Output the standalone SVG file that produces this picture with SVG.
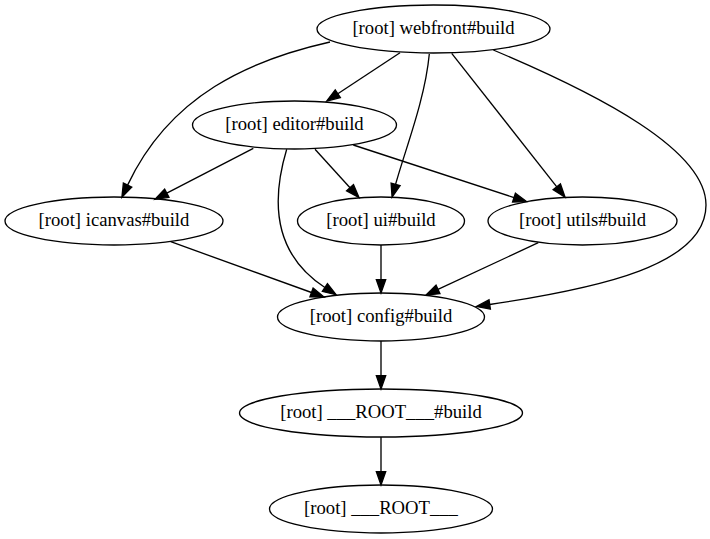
<svg xmlns="http://www.w3.org/2000/svg" width="710" height="539" viewBox="0 0 710 539">
<style>
.node ellipse{fill:none;stroke:#000;stroke-width:1.33}
.node text{font-family:"Liberation Serif","Times New Roman",serif;font-size:18.67px;fill:#000;text-anchor:middle}
.edges path{fill:none;stroke:#000;stroke-width:1.33;marker-end:url(#arr)}
</style>
<defs>
<marker id="arr" markerUnits="userSpaceOnUse" viewBox="0 0 13.33 9.33" markerWidth="13.33" markerHeight="9.33" refX="0" refY="4.67" orient="auto" overflow="visible">
<path d="M0,0 L13.33,4.67 L0,9.33 z" fill="#000" stroke="#000" stroke-width="1.33"/>
</marker>
</defs>
<rect width="710" height="539" fill="#fff"/>
<g class="edges">
<path d="M330,42 C250,60 170,95 127.6,185.1"/>
<path d="M400,52.7 L337.8,93.7"/>
<path d="M429.3,54 C425,100 405,150 395.6,184.3"/>
<path d="M451.7,53.3 L556.8,186.8"/>
<path d="M493.3,50 C600,95 706,150 706,205 C706,265 600,288 489.7,304.5"/>
<path d="M253.3,148.3 L166.8,193.2"/>
<path d="M286.7,149.3 C270,205 275,255 324.9,287.5"/>
<path d="M315,149.3 L350,187.7"/>
<path d="M353.3,145 L514,197.6"/>
<path d="M170.7,241.7 L311.5,292.5"/>
<path d="M381,245 L381,279.7"/>
<path d="M538.3,242.7 L438,289.4"/>
<path d="M381,341 L381,375.7"/>
<path d="M381,437 L381,471.7"/>
</g>
<g id="webfront" class="node"><ellipse cx="433.5" cy="29" rx="116.5" ry="24"/><text x="433.5" y="34">[root] webfront#build</text></g>
<g id="editor" class="node"><ellipse cx="294.5" cy="125" rx="102" ry="24"/><text x="294.5" y="130">[root] editor#build</text></g>
<g id="icanvas" class="node"><ellipse cx="114" cy="221" rx="109" ry="24"/><text x="114" y="226">[root] icanvas#build</text></g>
<g id="ui" class="node"><ellipse cx="381" cy="221" rx="83.5" ry="24"/><text x="381" y="226">[root] ui#build</text></g>
<g id="utils" class="node"><ellipse cx="582.5" cy="221" rx="94.5" ry="24"/><text x="582.5" y="226">[root] utils#build</text></g>
<g id="config" class="node"><ellipse cx="381" cy="317" rx="103.5" ry="24"/><text x="381" y="322">[root] config#build</text></g>
<g id="root_build" class="node"><ellipse cx="381" cy="413" rx="141.5" ry="24"/><text x="381" y="418">[root] ___ROOT___#build</text></g>
<g id="root" class="node"><ellipse cx="381" cy="509" rx="111.5" ry="24"/><text x="381" y="514">[root] ___ROOT___</text></g>
</svg>
